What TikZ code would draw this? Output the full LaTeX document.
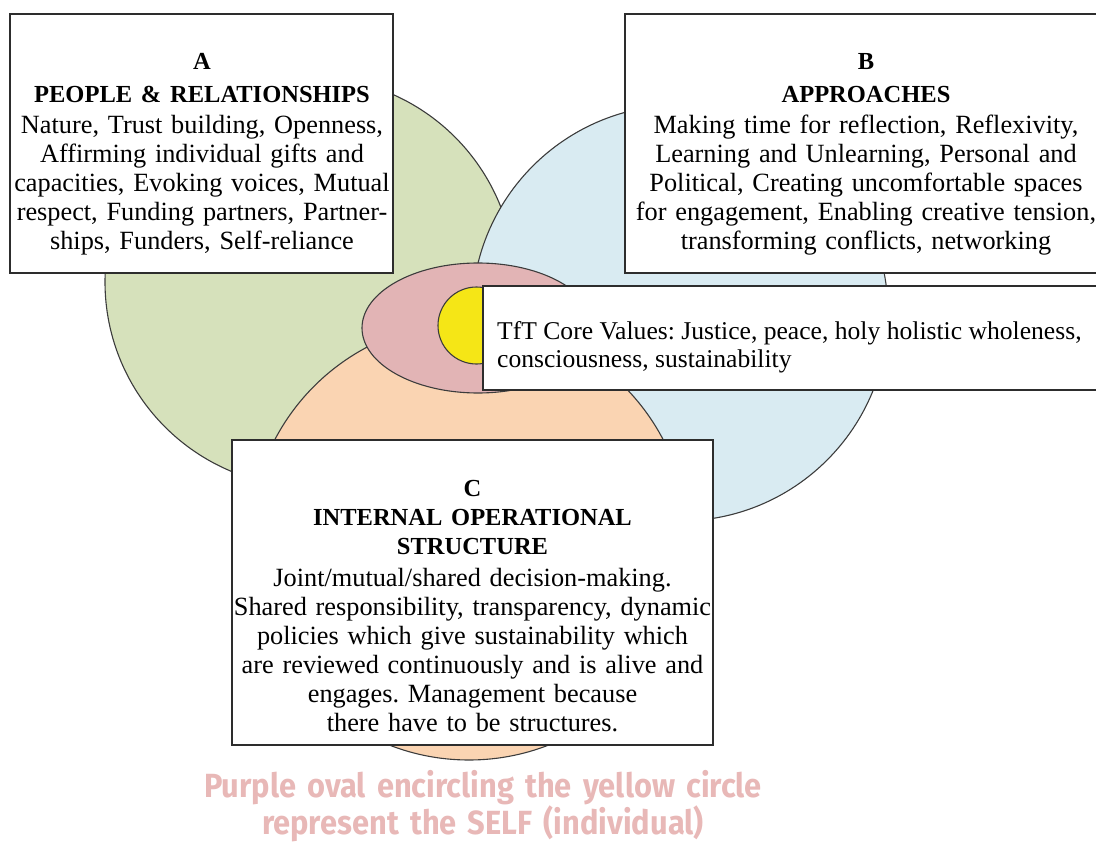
\documentclass[tikz,border=0pt]{standalone}
\usepackage{fontspec}
\setmainfont{Liberation Serif}
\newfontfamily\notefont{Fira Sans}[FakeStretch=0.92]
\usetikzlibrary{shapes.geometric}
\frenchspacing

\definecolor{greenfill}{RGB}{214,225,187}
\definecolor{bluefill}{RGB}{217,235,242}
\definecolor{orangefill}{RGB}{250,212,178}
\definecolor{pinkfill}{RGB}{226,180,181}
\definecolor{yellowfill}{RGB}{245,230,22}
\definecolor{ringline}{RGB}{60,60,60}
\definecolor{boxline}{RGB}{45,45,45}
\definecolor{notepink}{RGB}{232,184,183}

\newcommand{\hdr}{\bfseries\fontsize{24.5}{29}\selectfont}

\tikzset{
  ring/.style={draw=ringline, line width=1.1pt, inner sep=0pt, outer sep=0pt},
  panel/.style={draw=boxline, line width=1.5pt, fill=white, rectangle, inner sep=0pt, outer sep=0pt},
  bodytext/.style={align=center, inner sep=0pt, font=\fontsize{26.3}{29}\selectfont},
}

\begin{document}
\begin{tikzpicture}[x=1pt,y=-1pt]
\useasboundingbox (0,0) rectangle (1096,843);
\clip (0,0) rectangle (1096,843);

% the three overlapping circles
\node[ring, circle, fill=greenfill, minimum size=410pt] (green) at (310,282) {};
\node[ring, circle, fill=bluefill, minimum size=416pt] (blue) at (680,313) {};
\node[ring, circle, fill=orangefill, minimum size=438pt] (orange) at (469,541) {};

% the self: oval with the core in it
\node[ring, ellipse, fill=pinkfill, minimum width=232pt, minimum height=130pt] (self) at (478,328) {};
\node[ring, circle, fill=yellowfill, minimum size=77pt] (core) at (476.5,325.5) {};

% panel A
\node[panel, minimum width=383pt, minimum height=259pt] (A) at (201.5,143.5) {};
\node[bodytext, text width=382pt] (Atext) at (202,154) {%
  {\hdr A\\[4pt] PEOPLE \& RELATIONSHIPS}\\[2pt]
  Nature, Trust building, Openness,\\
  Affirming individual gifts and\\
  capacities, Evoking voices, Mutual\\
  respect, Funding partners, Partner-\\
  ships, Funders, Self-reliance};

% panel B
\node[panel, minimum width=482pt, minimum height=259pt] (B) at (866,143.5) {};
\node[bodytext, text width=470pt] (Btext) at (866,154) {%
  {\hdr B\\[4pt] APPROACHES}\\[2pt]
  Making time for reflection, Reflexivity,\\
  Learning and Unlearning, Personal and\\
  Political, Creating uncomfortable spaces\\
  for engagement, Enabling creative tension,\\
  transforming conflicts, networking};

% core values panel
\node[panel, minimum width=640pt, minimum height=104pt] (V) at (803,338) {};
\node[bodytext, align=left, anchor=west, font=\fontsize{25.6}{28}\selectfont] (Vtext) at (497,347) {%
  TfT Core Values: Justice, peace, holy holistic wholeness,\\
  consciousness, sustainability};

% panel C
\node[panel, minimum width=481pt, minimum height=305pt] (C) at (472.5,592.5) {};
\node[bodytext, text width=490pt] (Ctext) at (472.5,606) {%
  {\hdr C\\ INTERNAL OPERATIONAL\\ STRUCTURE}\\[3pt]
  Joint/mutual/shared decision-making.\\
  Shared responsibility, transparency, dynamic\\
  policies which give sustainability which\\
  are reviewed continuously and is alive and\\
  engages. Management because\\
  there have to be structures.};

% note under the diagram
\node[align=center, inner sep=0pt, text=notepink, text width=700pt,
      font=\notefont\bfseries\fontsize{33.5}{34}\selectfont] (note) at (483,806) {%
  Purple oval encircling the yellow circle\\
  represent the SELF (individual)};
\end{tikzpicture}
\end{document}
